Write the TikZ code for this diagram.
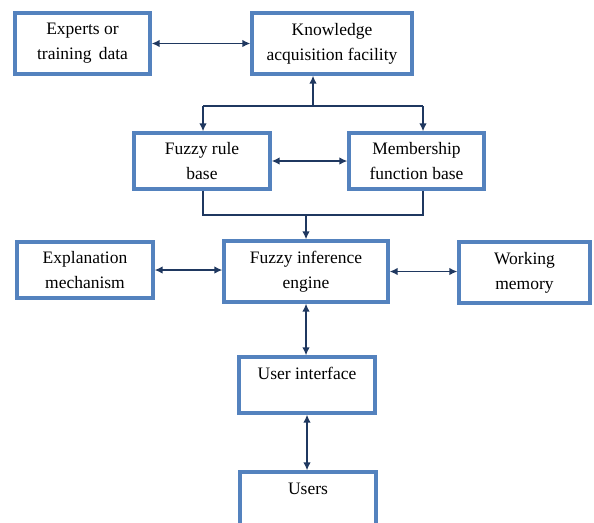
\documentclass[tikz,border=0pt]{standalone}
\usepackage{fontspec}
\setmainfont{Liberation Serif}
\usetikzlibrary{arrows.meta,calc}
\definecolor{boxblue}{RGB}{84,130,190}
\definecolor{arrownavy}{RGB}{31,56,96}
\tikzset{
  box/.style={draw=boxblue, line width=3.2pt, fill=white, align=center, inner sep=0pt,
    font=\fontsize{17.5}{25}\selectfont},
  txt/.style={font=\fontsize{17.5}{25}\selectfont, inner sep=0pt},
  conn/.style={draw=arrownavy, line width=1.7pt},
  tip/.style={-{Latex[length=8pt,width=7.5pt]}},
  tips/.style={{Latex[length=8pt,width=7.5pt]}-{Latex[length=8pt,width=7.5pt]}}
}
\begin{document}
\begin{tikzpicture}[x=1pt,y=-1pt]
\useasboundingbox (0,0) rectangle (594,522);
\clip (0,0) rectangle (594,522);
\fill[white] (0,0) rectangle (594,522);

\node[box, minimum width=135pt, minimum height=61pt] (exp) at (82.5,43.5) {Experts or\\training\, data};
\node[box, minimum width=160pt, minimum height=61pt] (kaf) at (332,43.5) {Knowledge\\acquisition facility};
\node[box, minimum width=136pt, minimum height=56pt] (frb) at (202,161) {Fuzzy rule\\base};
\node[box, minimum width=135pt, minimum height=56pt] (mfb) at (416.5,161) {Membership\\function base};
\node[box, minimum width=136pt, minimum height=56pt] (expl) at (85,270) {Explanation\\mechanism};
\node[box, minimum width=164pt, minimum height=61pt] (fie) at (306,271.5) {Fuzzy inference\\engine};
\node[box, minimum width=131pt, minimum height=61pt] (wm) at (524.5,272.5) {Working\\memory};
\node[box, minimum width=136pt, minimum height=56pt] (ui) at (307,385) {};
\node[txt, anchor=base] (uit) at ($(ui.north)+(0,24)$) {User interface};
\node[box, minimum width=136pt, minimum height=56pt] (users) at (308,500) {};
\node[txt, anchor=base] (userst) at ($(users.north)+(0,24)$) {Users};

\coordinate (j1) at (313,106);
\coordinate (jl) at (203,106);
\coordinate (jr) at (423,106);
\coordinate (b) at (306,215);

\draw[conn, tips] (exp.east) -- (exp.east -| kaf.west);
\draw[conn, tip] (j1) -- (j1 |- kaf.south);
\draw[conn] (jl) -- (jr);
\draw[conn, tip] (jl) -- (jl |- frb.north);
\draw[conn, tip] (jr) -- (jr |- mfb.north);
\draw[conn, tips] (frb.east) -- (frb.east -| mfb.west);
\draw[conn] (jl |- frb.south) |- (b) -| (jr |- mfb.south);
\draw[conn, tip] (b) -- (b |- fie.north);
\draw[conn, tips] (expl.east) -- (expl.east -| fie.west);
\draw[conn, tips] (fie.east) -- (fie.east -| wm.west);
\draw[conn, tips] (fie.south) -- (fie.south |- ui.north);
\draw[conn, tips] (ui.south) -- (ui.south |- users.north);
\end{tikzpicture}
\end{document}
